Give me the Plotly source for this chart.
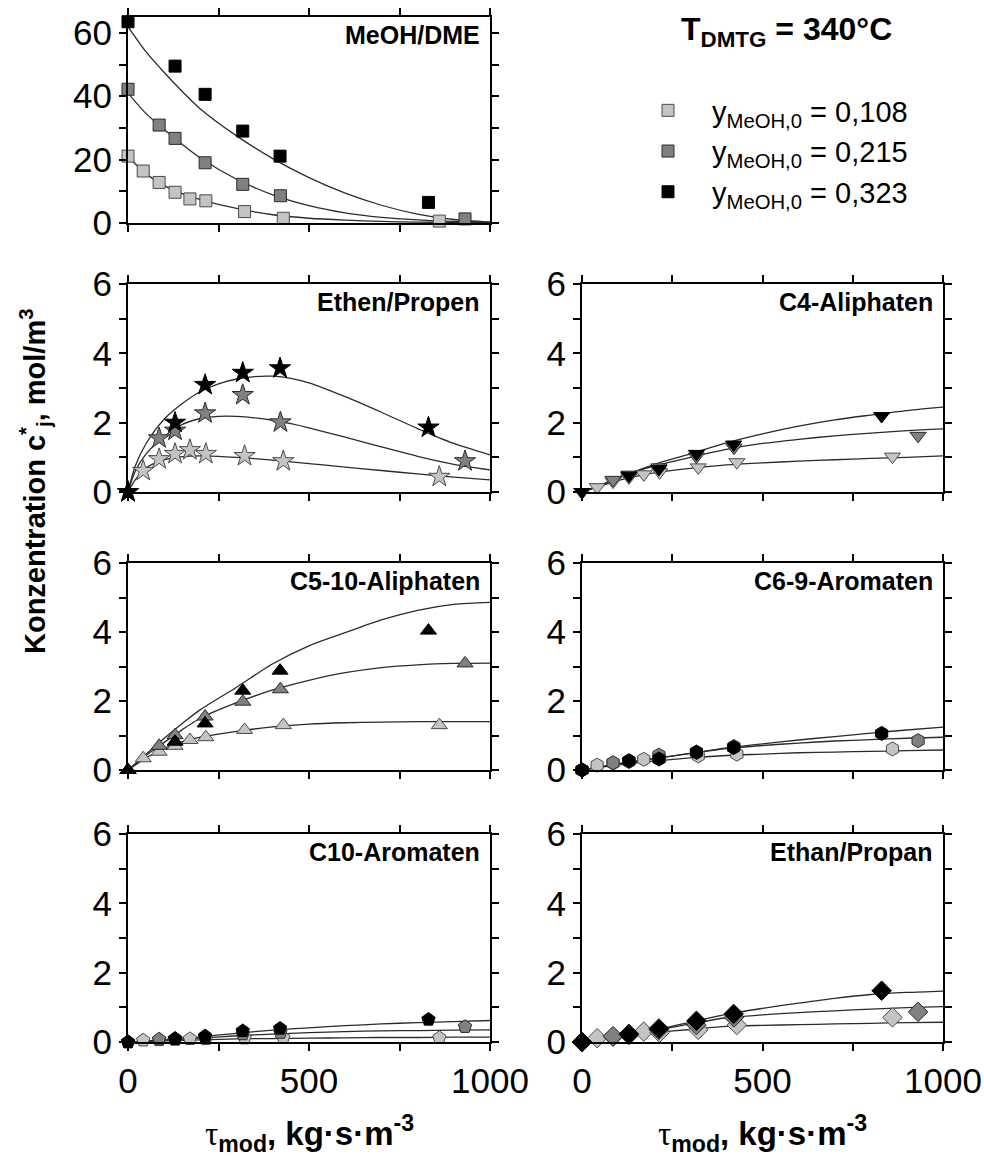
import plotly.graph_objects as go

W, H = 984, 1165

# ---------------- data ----------------
tau_light = [0, 42, 86, 130, 171, 215, 322, 429, 860]
tau_gray = [0, 86, 130, 213, 317, 421, 931]
tau_black = [0, 130, 213, 317, 420, 830]

series_names = ["y<sub>MeOH,0</sub> = 0,108",
                "y<sub>MeOH,0</sub> = 0,215",
                "y<sub>MeOH,0</sub> = 0,323"]

panel_labels = ["MeOH/DME", "Ethen/Propen", "C4-Aliphaten", "C5-10-Aliphaten",
                "C6-9-Aromaten", "C10-Aromaten", "Ethan/Propan"]
panel_symbols = ["square", "star", "triangle-down", "triangle-up",
                 "hexagon", "pentagon", "diamond"]

# measured points (light, gray, black)
meoh_light = [21.1, 16.4, 12.8, 9.7, 7.6, 7.0, 3.6, 1.5, 0.6]
meoh_gray = [42.2, 30.9, 26.7, 19.0, 12.2, 8.6, 1.3]
meoh_black = [63.5, 49.5, 40.6, 29.0, 21.1, 6.5]

ethen_light = [0, 0.61, 0.95, 1.10, 1.21, 1.10, 1.04, 0.89, 0.44]
ethen_gray = [0, 1.55, 1.77, 2.27, 2.80, 2.01, 0.89]
ethen_black = [0, 2.0, 3.09, 3.44, 3.57, 1.86]

c4_light = [0, 0.14, 0.30, 0.42, 0.51, 0.57, 0.71, 0.86, 1.02]
c4_gray = [0, 0.35, 0.50, 0.71, 1.02, 1.28, 1.62]
c4_black = [0, 0.47, 0.66, 1.10, 1.37, 2.19]

c510_light = [0, 0.34, 0.53, 0.70, 0.87, 0.95, 1.16, 1.30, 1.30]
c510_gray = [0, 0.70, 1.01, 1.55, 1.98, 2.34, 3.09]
c510_black = [0, 0.82, 1.35, 2.30, 2.88, 4.04]

c69_light = [0, 0.14, 0.20, 0.25, 0.31, 0.33, 0.41, 0.46, 0.61]
c69_gray = [0, 0.21, 0.25, 0.43, 0.52, 0.68, 0.85]
c69_black = [0, 0.27, 0.32, 0.51, 0.65, 1.06]

c10_light = [0, 0.05, 0.06, 0.07, 0.09, 0.09, 0.11, 0.12, 0.12]
c10_gray = [0, 0.08, 0.10, 0.14, 0.23, 0.27, 0.44]
c10_black = [0, 0.09, 0.17, 0.32, 0.39, 0.65]

ethan_light = [0, 0.11, 0.15, 0.20, 0.30, 0.27, 0.35, 0.49, 0.71]
ethan_gray = [0, 0.17, 0.22, 0.35, 0.49, 0.71, 0.87]
ethan_black = [0, 0.23, 0.39, 0.61, 0.81, 1.48]

# model curves
fit_tau = [0, 50, 100, 150, 200, 300, 400, 500, 600, 700, 800, 900, 1000]
fit_tau_ethen = [0, 20, 50, 100, 150, 200, 250, 300, 350, 400, 450, 500,
                 600, 700, 800, 900, 1000]

meoh_fit_light = [21, 15.5, 11.8, 9.3, 7.4, 4.6, 2.6, 1.5, 0.9, 0.5, 0.3, 0.2, 0.1]
meoh_fit_gray = [41, 34.5, 29.5, 24.8, 20.5, 13.8, 8.9, 5.5, 3.2, 1.8, 1.0, 0.5, 0.3]
meoh_fit_black = [62, 54, 47.5, 41.5, 36, 27.5, 20.3, 14.3, 9.4, 5.6, 2.8, 1.1, 0.3]

ethen_fit_light = [0, 0.35, 0.7, 0.93, 1.02, 1.04, 1.03, 1.0, 0.96, 0.92, 0.87,
                   0.82, 0.72, 0.62, 0.52, 0.43, 0.35]
ethen_fit_gray = [0, 0.6, 1.1, 1.6, 1.95, 2.12, 2.18, 2.18, 2.14, 2.07, 1.97,
                  1.85, 1.58, 1.3, 1.03, 0.8, 0.64]
ethen_fit_black = [0, 0.75, 1.4, 2.1, 2.55, 2.9, 3.12, 3.26, 3.33, 3.34, 3.28,
                   3.15, 2.75, 2.3, 1.83, 1.4, 1.07]

c4_fit_light = [0, 0.17, 0.33, 0.45, 0.55, 0.68, 0.78, 0.84, 0.89, 0.93, 0.97, 1.0, 1.04]
c4_fit_gray = [0, 0.2, 0.42, 0.6, 0.75, 1.0, 1.23, 1.4, 1.52, 1.62, 1.7, 1.77, 1.82]
c4_fit_black = [0, 0.18, 0.4, 0.6, 0.8, 1.1, 1.42, 1.68, 1.9, 2.08, 2.22, 2.35, 2.45]

c510_fit_light = [0, 0.35, 0.63, 0.82, 0.95, 1.12, 1.25, 1.33, 1.37, 1.39, 1.4, 1.4, 1.4]
c510_fit_gray = [0, 0.42, 0.8, 1.17, 1.5, 1.95, 2.32, 2.6, 2.82, 2.97, 3.05, 3.09, 3.1]
c510_fit_black = [0, 0.46, 0.92, 1.35, 1.75, 2.4, 3.08, 3.6, 3.98, 4.35, 4.63, 4.8, 4.86]

c69_fit_light = [0, 0.08, 0.15, 0.21, 0.26, 0.35, 0.42, 0.46, 0.5, 0.52, 0.54, 0.56, 0.58]
c69_fit_gray = [0, 0.09, 0.18, 0.26, 0.33, 0.48, 0.62, 0.71, 0.78, 0.84, 0.88, 0.92, 0.95]
c69_fit_black = [0, 0.09, 0.18, 0.26, 0.33, 0.48, 0.64, 0.76, 0.87, 0.97, 1.07, 1.16, 1.24]

c10_fit_light = [0, 0.015, 0.03, 0.045, 0.06, 0.09, 0.1, 0.11, 0.12, 0.13, 0.13, 0.14, 0.14]
c10_fit_gray = [0, 0.02, 0.05, 0.08, 0.11, 0.18, 0.23, 0.27, 0.3, 0.32, 0.33, 0.34, 0.35]
c10_fit_black = [0, 0.03, 0.07, 0.11, 0.15, 0.25, 0.34, 0.41, 0.47, 0.52, 0.56, 0.59, 0.62]

ethan_fit_light = [0, 0.07, 0.14, 0.21, 0.27, 0.36, 0.45, 0.48, 0.5, 0.52, 0.54, 0.56, 0.57]
ethan_fit_gray = [0, 0.08, 0.17, 0.25, 0.33, 0.52, 0.7, 0.78, 0.85, 0.9, 0.95, 0.99, 1.02]
ethan_fit_black = [0, 0.08, 0.17, 0.26, 0.35, 0.57, 0.8, 0.97, 1.12, 1.26, 1.37, 1.43, 1.47]

x_tickvals = [0, 250, 500, 750, 1000]
x_ticktext = ["0", "", "500", "", "1000"]
y_tickvals_top = [0, 10, 20, 30, 40, 50, 60]
y_ticktext_top = ["0", "", "20", "", "40", "", "60"]
y_tickvals = [0, 1, 2, 3, 4, 5, 6]
y_ticktext = ["0", "", "2", "", "4", "", "6"]

# ---------------- styling ----------------
fills = ["#c4c4c4", "#808080", "#000000"]
edges = ["#4a4a4a", "#2a2a2a", "#000000"]
line_color = "#2b2b2b"
FONT = "Liberation Sans, Arial, sans-serif"

# pixel layout
col_x = [(128, 490), (582, 943)]
row_y = [(17, 223), (284, 492), (563, 770), (834, 1042)]
panel_pos = [(0, 0), (1, 0), (1, 1), (2, 0), (2, 1), (3, 0), (3, 1)]

points = [
    (meoh_light, meoh_gray, meoh_black),
    (ethen_light, ethen_gray, ethen_black),
    (c4_light, c4_gray, c4_black),
    (c510_light, c510_gray, c510_black),
    (c69_light, c69_gray, c69_black),
    (c10_light, c10_gray, c10_black),
    (ethan_light, ethan_gray, ethan_black),
]
fits = [
    (fit_tau, meoh_fit_light, meoh_fit_gray, meoh_fit_black),
    (fit_tau_ethen, ethen_fit_light, ethen_fit_gray, ethen_fit_black),
    (fit_tau, c4_fit_light, c4_fit_gray, c4_fit_black),
    (fit_tau, c510_fit_light, c510_fit_gray, c510_fit_black),
    (fit_tau, c69_fit_light, c69_fit_gray, c69_fit_black),
    (fit_tau, c10_fit_light, c10_fit_gray, c10_fit_black),
    (fit_tau, ethan_fit_light, ethan_fit_gray, ethan_fit_black),
]
taus = [tau_light, tau_gray, tau_black]
msizes = {"square": 12, "star": 16, "triangle-down": 14, "triangle-up": 14,
          "hexagon": 14, "pentagon": 14, "diamond": 15}

fig = go.Figure()

for i in range(7):
    ax = "" if i == 0 else str(i + 1)
    xr, yr = "x" + ax, "y" + ax
    ftau = fits[i][0]
    for s in range(3):
        fig.add_trace(go.Scatter(
            x=ftau, y=fits[i][s + 1], mode="lines",
            line=dict(color=line_color, width=1.3, shape="spline", smoothing=0.8),
            xaxis=xr, yaxis=yr, showlegend=False, hoverinfo="skip"))
    for s in range(3):
        fig.add_trace(go.Scatter(
            x=taus[s], y=points[i][s], mode="markers",
            marker=dict(symbol=panel_symbols[i], size=msizes[panel_symbols[i]],
                        color=fills[s], line=dict(color=edges[s], width=1)),
            cliponaxis=False, xaxis=xr, yaxis=yr,
            name=series_names[s], showlegend=(i == 0)))

layout = dict(
    template="none",
    width=W, height=H,
    margin=dict(l=0, r=0, t=0, b=0, autoexpand=False),
    paper_bgcolor="white", plot_bgcolor="white",
    font=dict(family=FONT, color="black"),
    showlegend=True,
    legend=dict(x=624 / W, y=1 - 85 / H, xanchor="left", yanchor="top",
                font=dict(size=29, family=FONT), bgcolor="rgba(0,0,0,0)",
                borderwidth=0, tracegroupgap=0, itemwidth=78),
)

annotations = []
for i, (r, c) in enumerate(panel_pos):
    ax = "" if i == 0 else str(i + 1)
    x0, x1 = col_x[c]
    y0, y1 = row_y[r]
    common = dict(showline=True, linecolor="black", linewidth=2, mirror="ticks",
                  ticks="outside", ticklen=7, tickwidth=1.6, tickcolor="black",
                  showgrid=False, zeroline=False, automargin=False,
                  tickfont=dict(size=35, family=FONT, color="black"))
    layout["xaxis" + ax] = dict(
        domain=[x0 / W, x1 / W], anchor="y" + ax, range=[0, 1000],
        tickmode="array", tickvals=x_tickvals, ticktext=x_ticktext,
        showticklabels=(r == 3), **common)
    if i == 0:
        yv, yt, yrg = y_tickvals_top, y_ticktext_top, [0, 65]
    else:
        yv, yt, yrg = y_tickvals, y_ticktext, [0, 6]
    layout["yaxis" + ax] = dict(
        domain=[1 - y1 / H, 1 - y0 / H], anchor="x" + ax, range=yrg,
        tickmode="array", tickvals=yv, ticktext=yt, **common)
    annotations.append(dict(
        text="<b>" + panel_labels[i] + "</b>", xref="x" + ax + " domain",
        yref="y" + ax + " domain", x=1 - 8 / (x1 - x0), y=1 - 18 / (y1 - y0),
        xanchor="right", yanchor="middle", showarrow=False,
        font=dict(size=25, family=FONT, color="black")))

annotations.append(dict(
    text="<b>T<sub>DMTG</sub> = 340°C</b>", xref="paper", yref="paper",
    x=786 / W, y=1 - 32 / H, xanchor="center", yanchor="middle", showarrow=False,
    font=dict(size=32, family=FONT, color="black")))

annotations.append(dict(
    text="<b>Konzentration c<sup>*</sup><sub>j</sub>, mol/m<sup>3</sup></b>",
    xref="paper", yref="paper", x=35 / W, y=1 - 482 / H, textangle=-90,
    xanchor="center", yanchor="middle", showarrow=False,
    font=dict(size=29, family=FONT, color="black")))

tau_title = ('<span style="font-family:Liberation Serif;font-weight:normal">τ</span>'
             '<sub>mod</sub>, kg·s·m<sup>-3</sup>')
for c in range(2):
    x0, x1 = col_x[c]
    annotations.append(dict(
        text="<b>" + tau_title + "</b>",
        xref="paper", yref="paper", x=(x0 + x1) / 2 / W, y=1 - 1133 / H,
        xanchor="center", yanchor="middle", showarrow=False,
        font=dict(size=33, family=FONT, color="black")))

layout["annotations"] = annotations
fig.update_layout(**layout)
fig.write_html("out.html")
